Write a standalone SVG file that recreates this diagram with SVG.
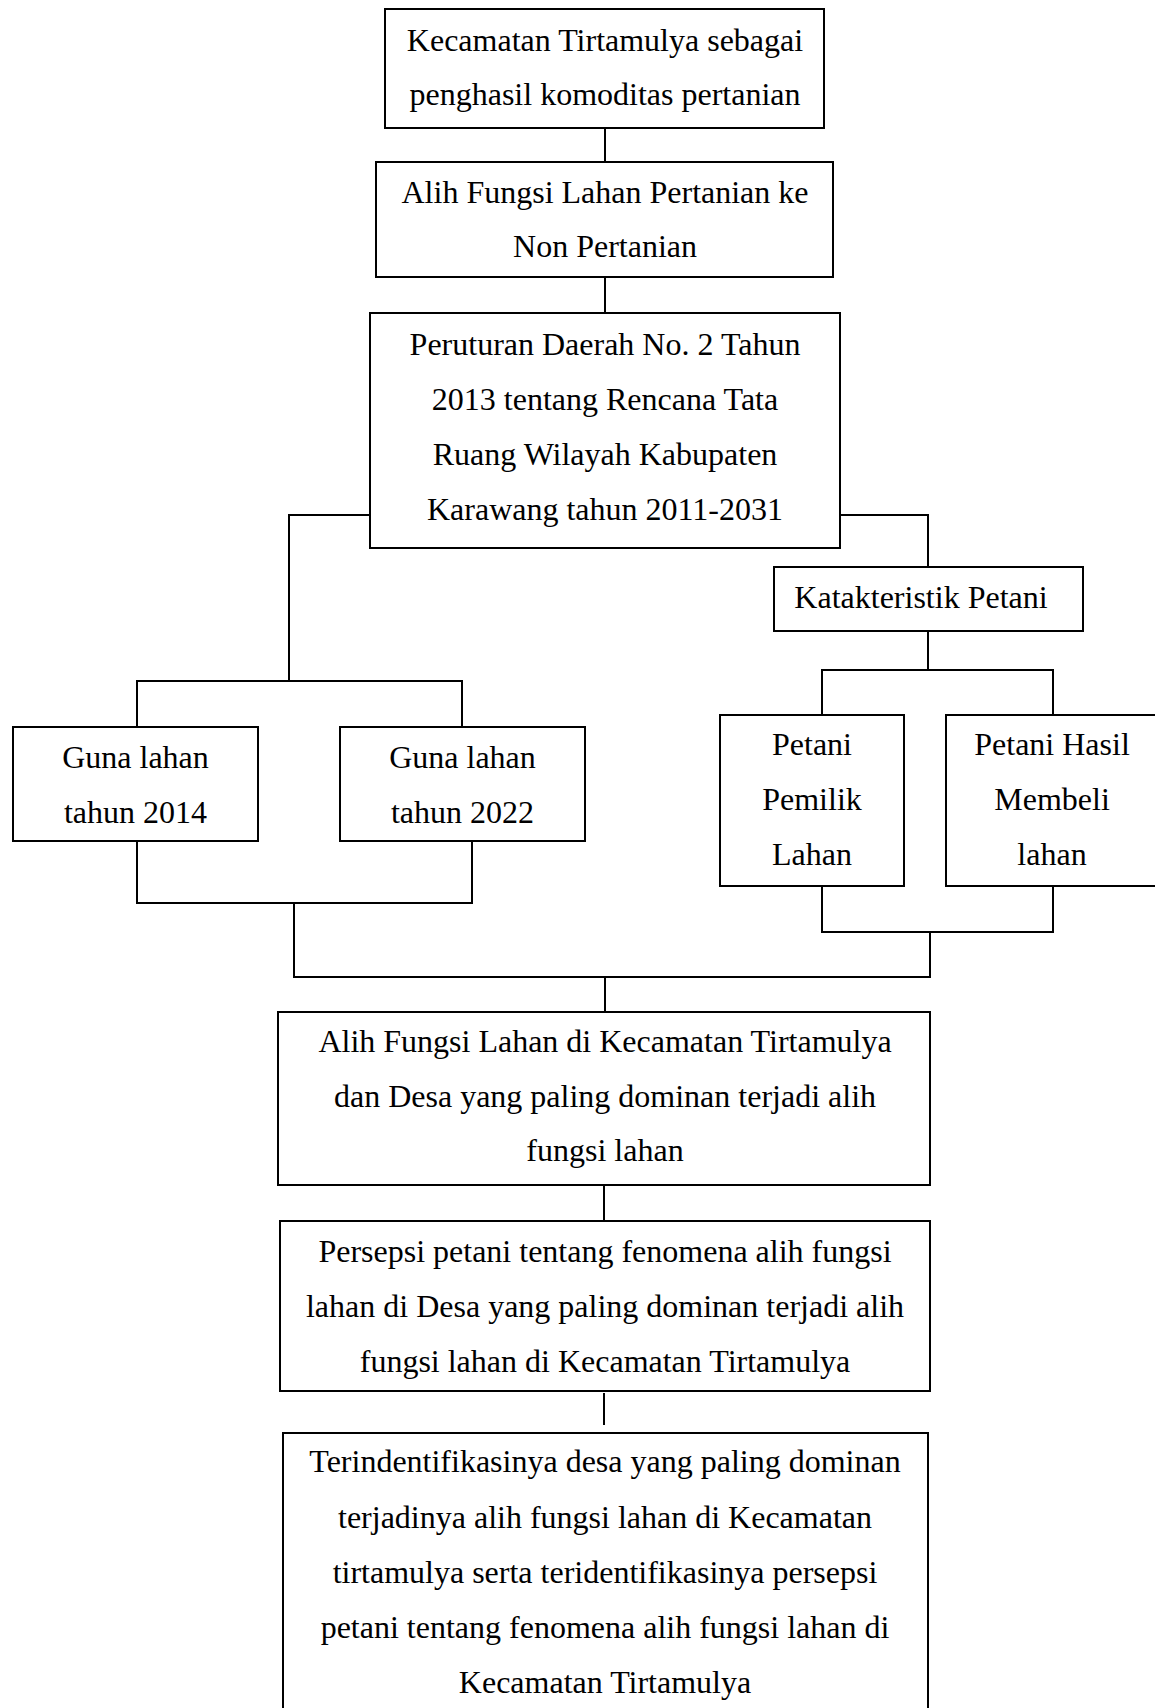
<svg xmlns="http://www.w3.org/2000/svg" width="1155" height="1708" viewBox="0 0 1155 1708">
<style>
.box{fill:#fff;stroke:#000;stroke-width:2}
.con{fill:none;stroke:#000;stroke-width:2}
text{font-family:"Liberation Serif","Times New Roman",serif;font-size:32px;fill:#000;text-anchor:middle}
</style>
<rect width="1155" height="1708" fill="#fff"/>
<g id="connectors">
<path class="con" d="M605,128 V162"/>
<path class="con" d="M605,277 V313"/>
<path class="con" d="M370,515 H289 V681"/>
<path class="con" d="M137,727 V681 H462 V727"/>
<path class="con" d="M840,515 H928 V567"/>
<path class="con" d="M928,631 V670"/>
<path class="con" d="M822,715 V670 H1053 V715"/>
<path class="con" d="M137,841 V903 H472 V841"/>
<path class="con" d="M294,903 V977 H930 V932"/>
<path class="con" d="M822,886 V932 H1053 V886"/>
<path class="con" d="M605,977 V1012"/>
<path class="con" d="M604,1185 V1221"/>
<path class="con" d="M604,1393 V1425"/>
</g>
<g id="n1">
<rect class="box" x="385" y="9" width="439" height="119"/>
<text x="605" y="51">Kecamatan Tirtamulya sebagai</text>
<text x="605" y="105">penghasil komoditas pertanian</text>
</g>
<g id="n2">
<rect class="box" x="376" y="162" width="457" height="115"/>
<text x="605" y="203">Alih Fungsi Lahan Pertanian ke</text>
<text x="605" y="257">Non Pertanian</text>
</g>
<g id="n3">
<rect class="box" x="370" y="313" width="470" height="235"/>
<text x="605" y="355">Peruturan Daerah No. 2 Tahun</text>
<text x="605" y="410">2013 tentang Rencana Tata</text>
<text x="605" y="465">Ruang Wilayah Kabupaten</text>
<text x="605" y="520">Karawang tahun 2011-2031</text>
</g>
<g id="n4">
<rect class="box" x="774" y="567" width="309" height="64"/>
<text x="921" y="608">Katakteristik Petani</text>
</g>
<g id="n5">
<rect class="box" x="13" y="727" width="245" height="114"/>
<text x="135.5" y="768">Guna lahan</text>
<text x="135.5" y="823">tahun 2014</text>
</g>
<g id="n6">
<rect class="box" x="340" y="727" width="245" height="114"/>
<text x="462.5" y="768">Guna lahan</text>
<text x="462.5" y="823">tahun 2022</text>
</g>
<g id="n7">
<rect class="box" x="720" y="715" width="184" height="171"/>
<text x="812" y="755">Petani</text>
<text x="812" y="810">Pemilik</text>
<text x="812" y="865">Lahan</text>
</g>
<g id="n8">
<rect class="box" x="946" y="715" width="220" height="171"/>
<text x="1052" y="755">Petani Hasil</text>
<text x="1052" y="810">Membeli</text>
<text x="1052" y="865">lahan</text>
</g>
<g id="n9">
<rect class="box" x="278" y="1012" width="652" height="173"/>
<text x="605" y="1052">Alih Fungsi Lahan di Kecamatan Tirtamulya</text>
<text x="605" y="1107">dan Desa yang paling dominan terjadi alih</text>
<text x="605" y="1161">fungsi lahan</text>
</g>
<g id="n10">
<rect class="box" x="280" y="1221" width="650" height="170"/>
<text x="605" y="1262">Persepsi petani tentang fenomena alih fungsi</text>
<text x="605" y="1317">lahan di Desa yang paling dominan terjadi alih</text>
<text x="605" y="1372">fungsi lahan di Kecamatan Tirtamulya</text>
</g>
<g id="n11">
<rect class="box" x="283" y="1433" width="645" height="300"/>
<text x="605" y="1472">Terindentifikasinya desa yang paling dominan</text>
<text x="605" y="1528">terjadinya alih fungsi lahan di Kecamatan</text>
<text x="605" y="1583">tirtamulya serta teridentifikasinya persepsi</text>
<text x="605" y="1638">petani tentang fenomena alih fungsi lahan di</text>
<text x="605" y="1693">Kecamatan Tirtamulya</text>
</g>
</svg>
